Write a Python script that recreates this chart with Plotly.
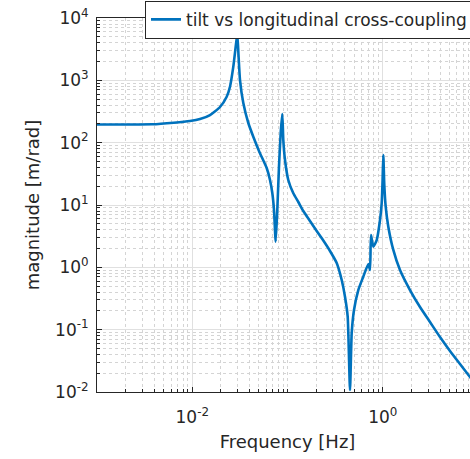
import plotly.graph_objects as go

# Frequency [Hz] and magnitude [m/rad]
freq = [0.001, 0.00222, 0.00378, 0.00639, 0.00947, 0.01206, 0.01536, 0.01956, 0.02299,
        0.02490, 0.02698, 0.02859, 0.02972, 0.03059, 0.03172, 0.03436, 0.03878, 0.04375,
        0.05057, 0.06046, 0.06551, 0.06925, 0.07216, 0.07516, 0.07812, 0.08141, 0.08483,
        0.08818, 0.09035, 0.09414, 0.1019, 0.1151, 0.1299, 0.1465, 0.1722, 0.2025, 0.2376,
        0.2794, 0.3285, 0.3707, 0.4015, 0.4285, 0.4531, 0.4721, 0.4992, 0.5538, 0.6248,
        0.7051, 0.7347, 0.7527, 0.7960, 0.8640, 0.9357, 0.9749, 0.9963, 1.0134, 1.0383,
        1.0740, 1.1437, 1.2909, 1.517, 1.932, 2.461, 3.134, 3.990, 5.082, 6.471, 8.241, 10.0]
mag = [195.5, 195.5, 197, 209, 222.6, 239.7, 277.8, 373.4, 546.3,
       790, 1655, 3464, 5537, 2550, 1012, 432.8, 206.8, 124.6,
       71.6, 39.2, 25.2, 15.6, 8.31, 2.58, 8.31, 41.2, 142.9,
       288.3, 110.3, 52.7, 25.2, 15.4, 11.17, 8.01, 5.54, 3.83, 2.69,
       1.83, 1.173, 0.626, 0.338, 0.1613, 0.01076, 0.0884, 0.2067, 0.4326, 0.7071,
       1.131, 0.906, 3.30, 2.14, 2.74, 5.74, 10.76, 25.2, 63.4, 20.9,
       9.39, 4.49, 1.90, 0.906, 0.4326, 0.2309, 0.1327, 0.0762, 0.0455, 0.0281, 0.01739, 0.01159]

x_tickvals = [0.01, 1]
x_ticktext = ["10<sup>-2</sup>", "10<sup>0</sup>"]
y_tickvals = [0.01, 0.1, 1, 10, 100, 1000, 10000]
y_ticktext = ["10<sup>-2</sup>", "10<sup>-1</sup>", "10<sup>0</sup>", "10<sup>1</sup>",
              "10<sup>2</sup>", "10<sup>3</sup>", "10<sup>4</sup>"]

axis_color = "#262626"
grid_color = "#e0e0e0"
minor_color = "#d4d4d4"

fig = go.Figure()
fig.add_trace(go.Scatter(x=freq, y=mag, mode="lines",
                         name="tilt vs longitudinal cross-coupling",
                         line=dict(color="#0072BD", width=2.6, shape="spline", smoothing=0.5)))

fig.update_layout(
    width=490, height=459,
    margin=dict(l=97, r=12, t=18, b=67, autoexpand=False),
    paper_bgcolor="white", plot_bgcolor="white",
    font=dict(family="DejaVu Sans", color=axis_color, size=17),
    showlegend=True,
    legend=dict(x=0.126, y=1.046, xanchor="left", yanchor="top",
                bordercolor=axis_color, borderwidth=1, bgcolor="white",
                font=dict(size=17), tracegroupgap=0, itemwidth=30),
)
fig.update_xaxes(
    type="log", range=[-3, 1],
    tickmode="array", tickvals=x_tickvals, ticktext=x_ticktext,
    ticks="inside", ticklen=5, tickcolor=axis_color, ticklabelstandoff=10,
    showline=True, linecolor=axis_color, linewidth=1, mirror=True,
    showgrid=True, gridcolor=grid_color, gridwidth=1,
    minor=dict(dtick="D1", showgrid=True, gridcolor=minor_color, griddash="dot",
               ticks="inside", ticklen=3, tickcolor=axis_color),
    title=dict(text="Frequency [Hz]", font=dict(size=18), standoff=8),
    zeroline=False,
)
fig.update_yaxes(
    type="log", range=[-2, 4],
    tickmode="array", tickvals=y_tickvals, ticktext=y_ticktext,
    ticks="inside", ticklen=5, tickcolor=axis_color, ticklabelstandoff=4,
    showline=True, linecolor=axis_color, linewidth=1, mirror=True,
    showgrid=True, gridcolor=grid_color, gridwidth=1,
    minor=dict(dtick="D1", showgrid=True, gridcolor=minor_color, griddash="dot",
               ticks="inside", ticklen=3, tickcolor=axis_color),
    title=dict(text="magnitude [m/rad]", font=dict(size=18), standoff=10),
    zeroline=False,
)

fig.write_html("out.html", config={"displayModeBar": False},
               post_script="document.body.style.margin='0';document.body.style.overflow='hidden';document.documentElement.style.overflow='hidden';")
